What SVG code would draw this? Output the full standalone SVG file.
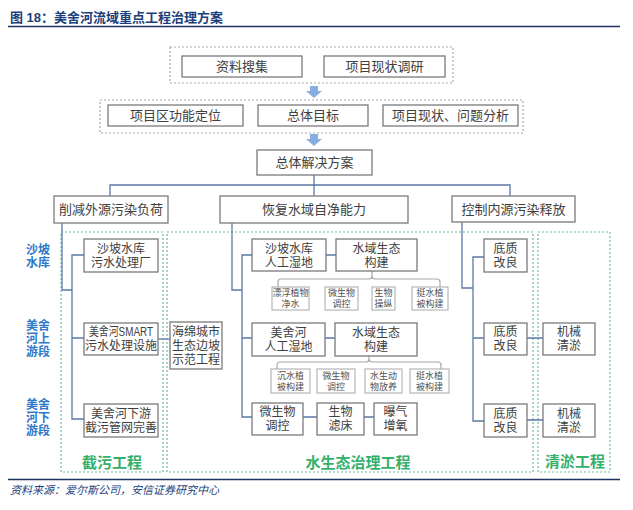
<svg xmlns="http://www.w3.org/2000/svg" width="633" height="510" viewBox="0 0 633 510">
<style>
text{font-family:"Liberation Sans","Noto Sans CJK SC",sans-serif;}
.b{fill:#fff;stroke:#7a7a7a;stroke-width:1.3;}
.s{fill:#fff;stroke:#a8a8a8;stroke-width:1;}
.t{font-size:13px;fill:#404040;text-anchor:middle;dominant-baseline:central;}
.t2{font-size:12px;fill:#404040;text-anchor:middle;dominant-baseline:central;}
.ts{font-size:9px;fill:#505050;text-anchor:middle;dominant-baseline:central;}
.dg{fill:none;stroke:#a8a8a8;stroke-width:1.2;stroke-dasharray:2 2;}
.gr{fill:none;stroke:#72b6a4;stroke-width:1.2;stroke-dasharray:2 2;}
.c{fill:none;stroke:#5a78a8;stroke-width:1.3;}
.br{fill:none;stroke:#a8a8a8;stroke-width:1.2;}
.gl{font-size:15px;font-weight:bold;fill:#34b06a;text-anchor:middle;font-family:"Noto Sans CJK SC",sans-serif;}
.bl{font-size:12px;font-weight:bold;fill:#2f78c8;text-anchor:middle;dominant-baseline:central;}
.ar{fill:#86aee0;}
</style>
<rect width="633" height="510" fill="#fff"/>
<g id="title">
<text x="10" y="22" font-size="13" font-weight="bold" fill="#1c3f7c">图 18：美舍河流域重点工程治理方案</text>
<line x1="8" y1="26.5" x2="620" y2="26.5" stroke="#1c3360" stroke-width="1.5"/>
</g>
<g id="frames">
<rect class="dg" x="170" y="47" width="283" height="36"/>
<rect class="dg" x="100" y="100" width="423" height="33"/>
<rect class="gr" x="61" y="232" width="102" height="240"/>
<rect class="gr" x="167" y="232" width="366" height="240"/>
<rect class="gr" x="538" y="232" width="72" height="240"/>
</g>
<g id="arrows">
<path class="ar" d="M310,86 H318 V91 H322 L314,98 L306,91 H310 Z"/>
<path class="ar" d="M310,134 H318 V139 H322 L314,146 L306,139 H310 Z"/>
</g>
<g id="connectors">
<path class="c" d="M314,175 V185 M110,196 V185 H510 V196 M314,185 V196"/>
<path class="c" d="M62,223 V290 H72 M84,255 H72 V419 H84 M72,338 H84"/>
<path class="c" d="M158,339 H170"/>
<path class="c" d="M232,223 V290 H242 M252,255 H242 V417 H252 M242,338 H252"/>
<path class="c" d="M326,255 H336 M325,338 H335 M303,417 H317 M364,417 H374"/>
<path class="c" d="M462,222 V288 H473 M484,257 H473 V421 H484 M473,338 H484"/>
<path class="c" d="M527,338 H543 M527,420 H543"/>
<path class="br" d="M278,287 V282 Q278,279 281,279 H369 Q372,279 372,276 V271 M372,276 Q372,279 375,279 H437 Q440,279 440,282 V287"/>
<path class="br" d="M277,369 V365 Q277,362 280,362 H366 Q369,362 369,359 V356 M369,359 Q369,362 372,362 H438 Q441,362 441,365 V369"/>
</g>
<g id="n_ziliao"><rect class="b" x="182" y="56" width="120" height="21"/><text class="t" x="242" y="66.5">资料搜集</text></g>
<g id="n_xianzhuang"><rect class="b" x="324" y="56" width="121" height="21"/><text class="t" x="384.5" y="66.5">项目现状调研</text></g>
<g id="n_gongneng"><rect class="b" x="108" y="105" width="135" height="21"/><text class="t" x="175.5" y="115.5">项目区功能定位</text></g>
<g id="n_mubiao"><rect class="b" x="258" y="105" width="110" height="21"/><text class="t" x="313" y="115.5">总体目标</text></g>
<g id="n_wenti"><rect class="b" x="383" y="105" width="135" height="21"/><text class="t" x="450.5" y="115.5">项目现状、问题分析</text></g>
<g id="n_jiejue"><rect class="b" x="257" y="150" width="115" height="25"/><text class="t" x="314.5" y="162.5">总体解决方案</text></g>
<g id="n_xuejian"><rect class="b" x="54" y="196" width="114" height="27"/><text class="t" x="111" y="209.5">削减外源污染负荷</text></g>
<g id="n_huifu"><rect class="b" x="220" y="196" width="188" height="27"/><text class="t" x="314" y="209.5">恢复水域自净能力</text></g>
<g id="n_kongzhi"><rect class="b" x="452" y="196" width="123" height="26"/><text class="t" x="513.5" y="209">控制内源污染释放</text></g>
<g id="lbl_left">
<text class="bl" x="38" y="250">沙坡</text><text class="bl" x="38" y="263">水库</text>
<text class="bl" x="38" y="326">美舍</text><text class="bl" x="38" y="339">河上</text><text class="bl" x="38" y="352">游段</text>
<text class="bl" x="38" y="405">美舍</text><text class="bl" x="38" y="418">河下</text><text class="bl" x="38" y="431">游段</text>
</g>
<g id="n_wushuichang"><rect class="b" x="84" y="239" width="74" height="33"/><text class="t2" x="121" y="249">沙坡水库</text><text class="t2" x="121" y="263">污水处理厂</text></g>
<g id="n_smart"><rect class="b" x="84" y="323" width="74" height="32"/><text class="t2" x="121" y="332" textLength="64" lengthAdjust="spacingAndGlyphs">美舍河SMART</text><text class="t2" x="121" y="346">污水处理设施</text></g>
<g id="n_jiewu"><rect class="b" x="84" y="404" width="74" height="33"/><text class="t2" x="121" y="414">美舍河下游</text><text class="t2" x="121" y="428">截污管网完善</text></g>
<g id="n_haimian"><rect class="b" x="170" y="322" width="52" height="47"/><text class="t2" x="196" y="332">海绵城市</text><text class="t2" x="196" y="346">生态边坡</text><text class="t2" x="196" y="360">示范工程</text></g>
<g id="n_sp_shidi"><rect class="b" x="252" y="239" width="74" height="32"/><text class="t2" x="289" y="249">沙坡水库</text><text class="t2" x="289" y="263">人工湿地</text></g>
<g id="n_sy1"><rect class="b" x="336" y="239" width="81" height="32"/><text class="t2" x="376.5" y="249">水域生态</text><text class="t2" x="376.5" y="263">构建</text></g>
<g id="n_s1"><rect class="s" x="272" y="287" width="37" height="23"/><text class="ts" x="290.5" y="293">漂浮植物</text><text class="ts" x="290.5" y="304">净水</text></g>
<g id="n_s2"><rect class="s" x="325" y="287" width="33" height="23"/><text class="ts" x="341.5" y="293">微生物</text><text class="ts" x="341.5" y="304">调控</text></g>
<g id="n_s3"><rect class="s" x="372" y="287" width="23" height="23"/><text class="ts" x="383.5" y="293">生物</text><text class="ts" x="383.5" y="304">操纵</text></g>
<g id="n_s4"><rect class="s" x="412" y="287" width="36" height="23"/><text class="ts" x="430" y="293">挺水植</text><text class="ts" x="430" y="304">被构建</text></g>
<g id="n_ms_shidi"><rect class="b" x="252" y="323" width="73" height="33"/><text class="t2" x="288.5" y="333">美舍河</text><text class="t2" x="288.5" y="347">人工湿地</text></g>
<g id="n_sy2"><rect class="b" x="335" y="323" width="82" height="33"/><text class="t2" x="376" y="333">水域生态</text><text class="t2" x="376" y="347">构建</text></g>
<g id="n_s5"><rect class="s" x="271" y="369" width="39" height="24"/><text class="ts" x="290.5" y="375.5">沉水植</text><text class="ts" x="290.5" y="386.5">被构建</text></g>
<g id="n_s6"><rect class="s" x="317" y="369" width="38" height="24"/><text class="ts" x="336" y="375.5">微生物</text><text class="ts" x="336" y="386.5">调控</text></g>
<g id="n_s7"><rect class="s" x="365" y="369" width="37" height="24"/><text class="ts" x="383.5" y="375.5">水生动</text><text class="ts" x="383.5" y="386.5">物放养</text></g>
<g id="n_s8"><rect class="s" x="410" y="369" width="39" height="24"/><text class="ts" x="429.5" y="375.5">挺水植</text><text class="ts" x="429.5" y="386.5">被构建</text></g>
<g id="n_wsw"><rect class="b" x="252" y="403" width="51" height="32"/><text class="t2" x="277.5" y="412">微生物</text><text class="t2" x="277.5" y="426">调控</text></g>
<g id="n_lvchuang"><rect class="b" x="317" y="403" width="47" height="32"/><text class="t2" x="340.5" y="412">生物</text><text class="t2" x="340.5" y="426">滤床</text></g>
<g id="n_baoqi"><rect class="b" x="374" y="403" width="43" height="32"/><text class="t2" x="395.5" y="412">曝气</text><text class="t2" x="395.5" y="426">增氧</text></g>
<g id="n_dz1"><rect class="b" x="484" y="239" width="43" height="33"/><text class="t2" x="505.5" y="249">底质</text><text class="t2" x="505.5" y="263">改良</text></g>
<g id="n_dz2"><rect class="b" x="484" y="323" width="43" height="32"/><text class="t2" x="505.5" y="332">底质</text><text class="t2" x="505.5" y="346">改良</text></g>
<g id="n_dz3"><rect class="b" x="484" y="404" width="43" height="33"/><text class="t2" x="505.5" y="414">底质</text><text class="t2" x="505.5" y="428">改良</text></g>
<g id="n_jx1"><rect class="b" x="543" y="323" width="52" height="32"/><text class="t2" x="569" y="332">机械</text><text class="t2" x="569" y="346">清淤</text></g>
<g id="n_jx2"><rect class="b" x="543" y="404" width="52" height="33"/><text class="t2" x="569" y="414">机械</text><text class="t2" x="569" y="428">清淤</text></g>
<g id="group_labels">
<text class="gl" x="112" y="468">截污工程</text>
<text class="gl" x="358" y="468">水生态治理工程</text>
<text class="gl" x="575" y="467">清淤工程</text>
</g>
<g id="footer">
<line x1="8" y1="479.5" x2="620" y2="479.5" stroke="#1c3360" stroke-width="1.5"/>
<text x="10" y="494" font-size="11" font-style="italic" fill="#1c3f7c">资料来源：爱尔斯公司，安信证券研究中心</text>
</g>
</svg>
